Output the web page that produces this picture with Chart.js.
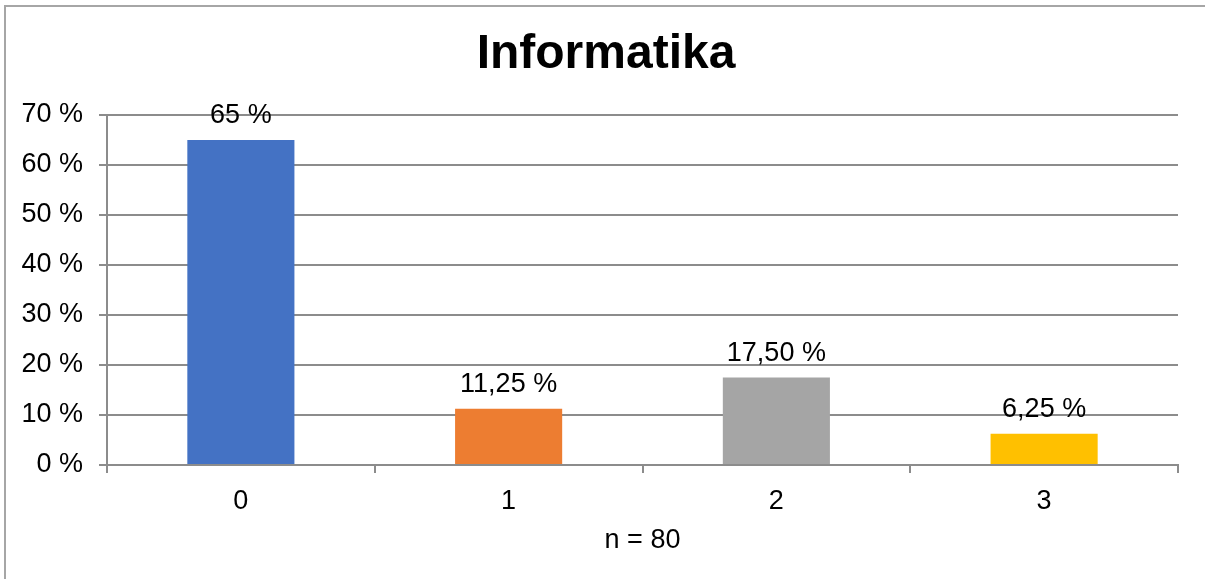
<!DOCTYPE html>
<html>
<head>
<meta charset="utf-8">
<script src="https://cdn.jsdelivr.net/npm/chart.js@4.4.1/dist/chart.umd.min.js"></script>
<style>
  html, body { margin: 0; padding: 0; background: #fff; overflow: hidden; }
  canvas { display: block; }
</style>
</head>
<body>
<canvas id="chart" width="1205" height="579"></canvas>
<script>
const categories = ['0', '1', '2', '3']
const values = [65, 11.25, 17.5, 6.25]
const valueLabels = ['65 %', '11,25 %', '17,50 %', '6,25 %']
const yTicks = [0, 10, 20, 30, 40, 50, 60, 70]
const barColors = ['#4472C4', '#ED7D31', '#A5A5A5', '#FFC000']
const chartTitle = 'Informatika'

const gridColor = '#8c8c8c'
const frameColor = '#a6a6a6'
const fontFamily = '"Liberation Sans", Arial, sans-serif'

// outer frame (left and top edges only are inside the picture)
const framePlugin = {
  id: 'frame',
  beforeDraw(chart){
    const ctx = chart.ctx
    ctx.save()
    ctx.strokeStyle = frameColor
    ctx.lineWidth = 2
    ctx.beginPath()
    ctx.moveTo(5, chart.height)
    ctx.lineTo(5, 6)
    ctx.lineTo(chart.width, 6)
    ctx.stroke()
    ctx.restore()
  }
}

// title centred on the whole frame, value text above each bar
const textPlugin = {
  id: 'texts',
  afterDatasetsDraw(chart){
    const ctx = chart.ctx
    const meta = chart.getDatasetMeta(0)
    ctx.save()
    ctx.fillStyle = '#000'
    ctx.textAlign = 'center'
    ctx.textBaseline = 'middle'
    ctx.font = 'bold 48px ' + fontFamily
    ctx.fillText(chartTitle, 606, 55)
    ctx.font = '27px ' + fontFamily
    ctx.textBaseline = 'alphabetic'
    meta.data.forEach((bar, i) => {
      ctx.fillText(valueLabels[i], bar.x, bar.y - 17)
    })
    ctx.restore()
  }
}

const config = {
  type: 'bar',
  data: {
    labels: categories,
    datasets: [{
      data: values,
      backgroundColor: barColors,
      categoryPercentage: 1,
      barPercentage: 0.4
    }]
  },
  options: {
    responsive: false,
    animation: false,
    layout: { padding: { left: 0, right: 27, top: 115, bottom: 18 } },
    plugins: {
      legend: { display: false },
      tooltip: { enabled: false },
      title: { display: false }
    },
    scales: {
      x: {
        grid: { offset: true, drawOnChartArea: false, drawTicks: true, tickLength: 8, color: gridColor, lineWidth: 2 },
        border: { display: true, color: gridColor, width: 2 },
        ticks: { color: '#000', font: { family: fontFamily, size: 27 }, padding: 12 },
        title: { display: true, text: 'n = 80', color: '#000', font: { family: fontFamily, size: 27 }, padding: { top: 4, bottom: 4 } },
        afterFit(scale){ scale.height = 96 }
      },
      y: {
        min: 0,
        max: 70,
        afterBuildTicks(scale){ scale.ticks = yTicks.map(v => ({ value: v })) },
        grid: { color: gridColor, lineWidth: 2, tickLength: 8 },
        border: { display: true, color: gridColor, width: 2 },
        ticks: {
          color: '#000',
          font: { family: fontFamily, size: 27 },
          padding: 16,
          callback: v => v + ' %'
        },
        afterFit(scale){ scale.width = 107 }
      }
    }
  },
  plugins: [framePlugin, textPlugin]
}

new Chart(document.getElementById('chart').getContext('2d'), config)
</script>
</body>
</html>
